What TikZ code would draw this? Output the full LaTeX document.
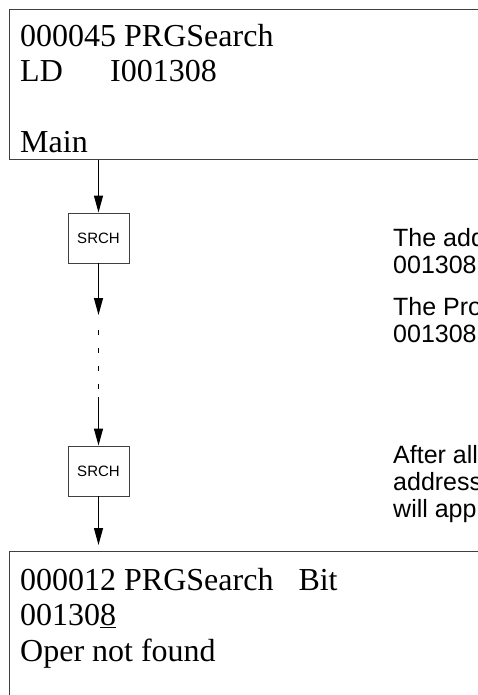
\documentclass[tikz,border=0pt]{standalone}
\usepackage{fontspec}
\setmainfont{Liberation Serif}
\setsansfont{Liberation Sans}
\usetikzlibrary{arrows.meta,positioning}
\tikzset{
  prog/.style ={draw=black!75, line width=0.9pt, minimum width=520pt,
                inner sep=0pt, anchor=north west},
  srch/.style ={draw=black!75, line width=0.9pt, minimum width=61pt,
                minimum height=50pt, inner sep=0pt,
                font=\sffamily\fontsize{15}{17}\selectfont},
  code/.style ={align=left, inner sep=0pt, anchor=base west,
                font=\fontsize{32}{35.5}\selectfont},
  note/.style ={align=left, inner sep=0pt, anchor=base west,
                font=\sffamily\fontsize{25}{27}\selectfont},
  flow/.style ={-{Triangle[length=17pt,width=9pt]}, line width=1.2pt},
  dflow/.style={line width=1.2pt, dash pattern=on 5pt off 13pt},
}

\begin{document}
\begin{tikzpicture}[x=1pt, y=-1pt]
\useasboundingbox (0,0) rectangle (478,695);
\clip (0,0) rectangle (478,695);

% ---- program listing boxes (text placed by its last baseline) -------
\node[prog, minimum height=150pt] (top) at (9,9) {};
\node[prog, minimum height=160pt] (bot) at (9,551) {};
\node[code] (toptxt) at (20,153)
  {000045 PRGSearch\\\makebox[90pt][l]{LD}I001308\\[35.5pt]Main};
\node[code] (bottxt) at (20,661)
  {000012 PRGSearch\hspace{25pt}Bit\\00130\underline{8}\\Oper not found};

% ---- search steps ---------------------------------------------------
\node[srch] (s1) at (98.5,238) {SRCH};
\node[srch] (s2) at (98.5,471) {SRCH};
\coordinate (d1) at (98.5,315);
\coordinate (d2) at (98.5,330);
\coordinate (d3) at (98.5,397);

\draw[flow] (top.south -| s1) -- (s1);
\draw[flow] (s1) -- (d1);
\draw[dflow] (d2) -- (d3);
\draw[flow] (d3) -- (s2);
\draw[flow, shorten >=6pt] (s2) -- (bot.north -| s2);

% ---- notes ----------------------------------------------------------
\node[note] (n1) at (393,273) {The add\\001308};
\node[note] (n2) at (393,342) {The Pro\\001308};
\node[note] (n3) at (393,517) {After all\\address\\will app};

\end{tikzpicture}
\end{document}
